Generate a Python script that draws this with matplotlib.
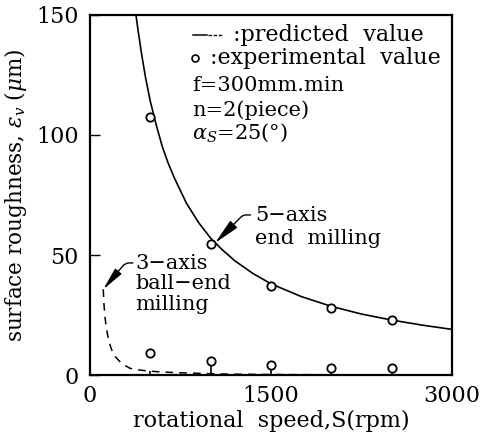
import matplotlib
matplotlib.use("Agg")
import matplotlib.pyplot as plt

plt.rcParams['font.family'] = ['DejaVu Serif']
plt.rcParams['mathtext.fontset'] = 'dejavuserif'

# predicted 5-axis end milling curve
s5 = [381, 400, 430, 460, 500, 550, 600, 650, 700, 800, 900, 1000, 1100, 1200, 1350, 1500,
      1750, 2000, 2250, 2500, 2750, 3000]
r5 = [150, 143, 133, 124, 114, 104, 95, 88, 82, 71.5, 63.5, 57, 52, 47.6, 42.3, 38,
      32.7, 28.6, 25.4, 22.9, 20.8, 19]
# predicted 3-axis ball-end milling curve
s3 = [110, 115, 124, 133, 143, 160, 180, 210, 249, 290, 331, 390, 456, 550, 700, 900, 1100,
      1500, 2000, 2500, 3000]
r3 = [35.7, 30, 24.3, 20.5, 17.4, 13.5, 10.4, 7.6, 5.5, 4.0, 2.8, 2.2, 1.8, 1.4, 1.0, 0.7,
      0.4, 0.2, 0.1, 0.05, 0]
# experimental values
sx = [500, 1000, 1500, 2000, 2500]
e5 = [107.6, 54.4, 37, 27.8, 22.9]
e3 = [9, 6, 4.2, 2.8, 2.8]
bar_top = [1.5, 6, 4.2, 4.2, 4.2]

fig = plt.figure(figsize=(4.85, 4.34), dpi=100)
ax = fig.add_axes([90/485, 1-375/434, 362/485, 360/434])
ax.set_xlim(0, 3000)
ax.set_ylim(0, 150)

ax.plot(s5, r5, color='black', lw=1.2)
ax.plot(s3, r3, color='black', lw=1.1, ls=(0, (5, 4)))
ax.vlines(sx, 0, bar_top, color='black', lw=1.2)
ax.plot(sx, e5, 'o', mfc='white', mec='black', ms=6, mew=1.3)
ax.plot(sx, e3, 'o', mfc='white', mec='black', ms=6, mew=1.3)

for sp in ax.spines.values():
    sp.set_linewidth(1.6)
ax.set_xticks([0, 1500, 3000])
ax.set_yticks([0, 50, 100, 150])
ax.tick_params(axis='y', direction='in', length=7, width=1, labelsize=16, pad=8)
ax.tick_params(axis='x', direction='in', length=0, width=1, labelsize=16, pad=7)
ax.set_xlabel('rotational  speed,S(rpm)', fontsize=16, labelpad=2)
ax.set_ylabel(r'surface roughness, $\varepsilon_{v}$ ($\mu$m)', fontsize=15.5, labelpad=5)

fs = 15
fl = 16
# legend-like text
ax.plot([853, 970], [141.7, 141.7], color='black', lw=1.1)
ax.plot([980, 1094], [141.7, 141.7], color='black', lw=1.0, ls=(0, (2.5, 1.2)))
ax.text(1185, 141.7, ':predicted  value', fontsize=fl, va='center')
ax.plot([870], [132], 'o', mfc='white', mec='black', ms=5, mew=1.2)
ax.text(994, 132, ':experimental  value', fontsize=fl, va='center')
ax.text(845, 120.5, 'f=300mm.min', fontsize=fs, va='center')
ax.text(845, 110.5, 'n=2(piece)', fontsize=fs, va='center')
ax.text(845, 100.8, r'$\alpha_{S}$=25($\degree$)', fontsize=fs, va='center')

# 5-axis annotation
ax.text(1370, 66.5, '5\u2212axis', fontsize=fs, va='center', ha='left')
ax.text(1370, 57, 'end  milling', fontsize=fs, va='center', ha='left')
ax.annotate('', xy=(1036, 55), xytext=(1330, 66.7),
            arrowprops=dict(arrowstyle='-|>,head_length=1.6,head_width=0.3', color='black',
                            connectionstyle='angle,angleA=0,angleB=45,rad=3',
                            shrinkA=0, shrinkB=0, lw=1.0))
# 3-axis annotation
ax.text(373, 46.5, '3\u2212axis', fontsize=fs, va='center', ha='left')
ax.text(373, 38, 'ball\u2212end', fontsize=fs, va='center', ha='left')
ax.text(373, 29.5, 'milling', fontsize=fs, va='center', ha='left')
ax.annotate('', xy=(108, 35.6), xytext=(356, 46.7),
            arrowprops=dict(arrowstyle='-|>,head_length=1.4,head_width=0.25', color='black',
                            connectionstyle='angle,angleA=0,angleB=50,rad=4',
                            shrinkA=0, shrinkB=0, lw=1.0))

fig.savefig('out.png', dpi=100)
